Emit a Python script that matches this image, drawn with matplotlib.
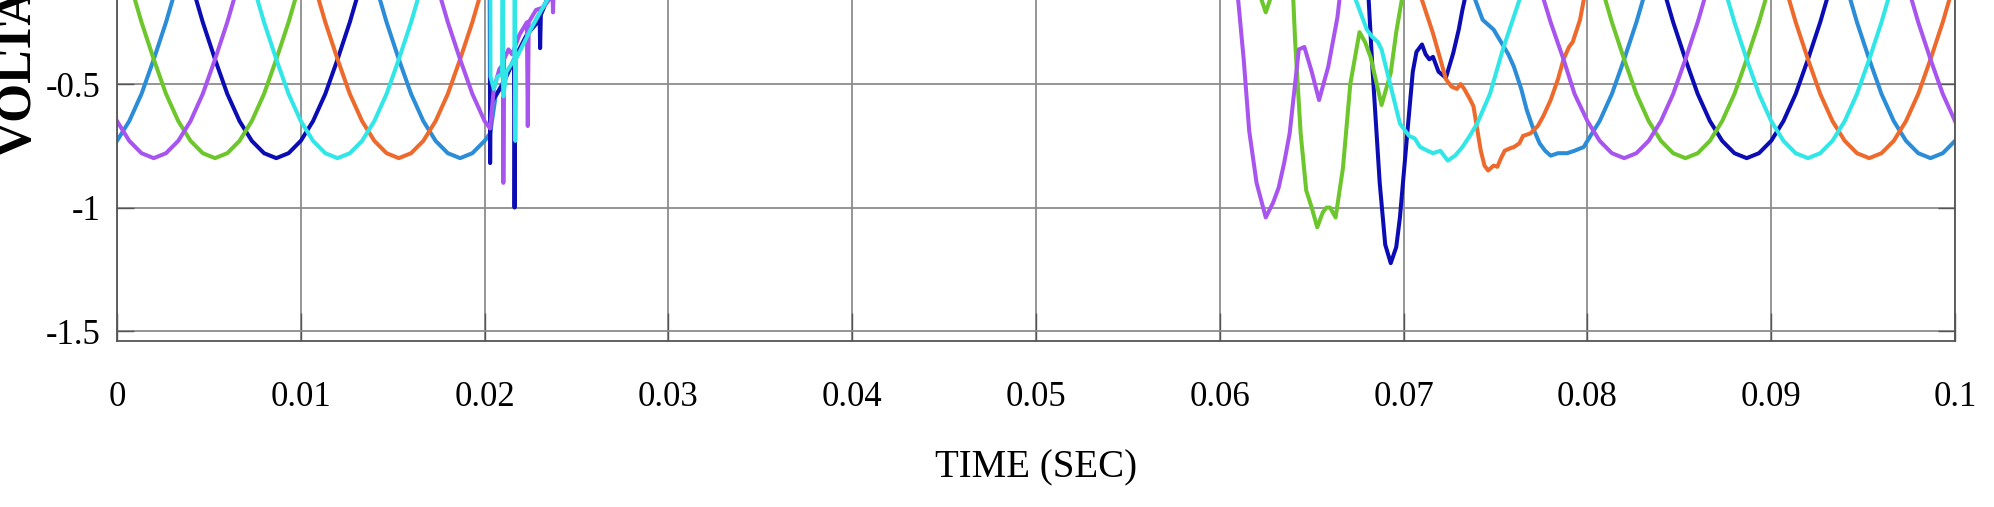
import numpy as np
import matplotlib
matplotlib.use('Agg')
import matplotlib.pyplot as plt

# sample step of the steady-state waveforms (1/30 of a 50 Hz cycle)
STEP = 0.02 / 30

# steady-state samples, one cycle (31 points) -- seen before the fault (0-0.02 s)
# and again after recovery (0.08-0.1 s)
steady_purple = [-0.65, -0.73, -0.78, -0.80, -0.78, -0.73, -0.65, -0.54, -0.40, -0.25, -0.08,
                 0.08, 0.25, 0.40, 0.54, 0.65, 0.73, 0.78, 0.80, 0.78, 0.73, 0.65, 0.54, 0.40,
                 0.25, 0.08, -0.08, -0.25, -0.40, -0.54, -0.65]
steady_green = [0.08, -0.08, -0.25, -0.40, -0.54, -0.65, -0.73, -0.78, -0.80, -0.78, -0.73,
                -0.65, -0.54, -0.40, -0.25, -0.08, 0.08, 0.25, 0.40, 0.54, 0.65, 0.73, 0.78,
                0.80, 0.78, 0.73, 0.65, 0.54, 0.40, 0.25, 0.08]
steady_blue = [0.73, 0.65, 0.54, 0.40, 0.25, 0.08, -0.08, -0.25, -0.40, -0.54, -0.65, -0.73,
               -0.78, -0.80, -0.78, -0.73, -0.65, -0.54, -0.40, -0.25, -0.08, 0.08, 0.25, 0.40,
               0.54, 0.65, 0.73, 0.78, 0.80, 0.78, 0.73]
steady_cyan = [0.65, 0.73, 0.78, 0.80, 0.78, 0.73, 0.65, 0.54, 0.40, 0.25, 0.08, -0.08, -0.25,
               -0.40, -0.54, -0.65, -0.73, -0.78, -0.80, -0.78, -0.73, -0.65, -0.54, -0.40,
               -0.25, -0.08, 0.08, 0.25, 0.40, 0.54, 0.65]
steady_orange = [-0.08, 0.08, 0.25, 0.40, 0.54, 0.65, 0.73, 0.78, 0.80, 0.78, 0.73, 0.65, 0.54,
                 0.40, 0.25, 0.08, -0.08, -0.25, -0.40, -0.54, -0.65, -0.73, -0.78, -0.80,
                 -0.78, -0.73, -0.65, -0.54, -0.40, -0.25, -0.08]
steady_ltblue = [-0.73, -0.65, -0.54, -0.40, -0.25, -0.08, 0.08, 0.25, 0.40, 0.54, 0.65, 0.73,
                 0.78, 0.80, 0.78, 0.73, 0.65, 0.54, 0.40, 0.25, 0.08, -0.08, -0.25, -0.40,
                 -0.54, -0.65, -0.73, -0.78, -0.80, -0.78, -0.73]

# fault (0.02 s) and recovery (0.06 s) transients, (time, value)
trans_purple = [(0.0203, -0.68), (0.0205, -0.52), (0.0208, -0.44), (0.0210, -0.42),
                (0.02102, -0.90), (0.02106, -0.40), (0.0213, -0.36), (0.0215, -0.38),
                (0.0219, -0.30), (0.0223, -0.25), (0.02235, -0.67), (0.0224, -0.25),
                (0.0228, -0.20), (0.0232, -0.19), (0.0237, -0.14), (0.02372, -0.21),
                (0.02376, -0.12), (0.0245, 0.0), (0.0600, 0.0), (0.0610, -0.16),
                (0.0613, -0.40), (0.0616, -0.69), (0.0620, -0.90), (0.0625, -1.04),
                (0.0629, -0.98), (0.0632, -0.92), (0.0635, -0.82), (0.0638, -0.70),
                (0.0643, -0.36), (0.0646, -0.35), (0.0650, -0.45), (0.0654, -0.565),
                (0.0659, -0.43), (0.0664, -0.23), (0.0666, -0.10), (0.0672, 0.20),
                (0.0700, 0.60), (0.0740, 0.65), (0.0760, 0.25), (0.0767, 0.08),
                (0.0773, -0.08), (0.0780, -0.25), (0.0787, -0.40), (0.0793, -0.54)]
trans_green = [(0.0245, 0.0), (0.0600, 0.0), (0.0620, -0.10), (0.0625, -0.21), (0.0630, -0.10),
               (0.0636, 0.0), (0.0640, -0.16), (0.0641, -0.33), (0.0644, -0.70),
               (0.0647, -0.93), (0.0650, -1.00), (0.0653, -1.08), (0.0656, -1.02),
               (0.0658, -1.00), (0.0660, -1.00), (0.0663, -1.04), (0.0667, -0.84),
               (0.0671, -0.50), (0.0676, -0.29), (0.0679, -0.33), (0.0682, -0.39),
               (0.0688, -0.585), (0.0693, -0.455), (0.0696, -0.29), (0.0699, -0.16),
               (0.0705, 0.10), (0.0753, 0.80), (0.0780, 0.54), (0.0787, 0.40), (0.0793, 0.25)]
trans_blue = [(0.02027, 0.30), (0.0203, -0.82), (0.02032, -0.58), (0.0210, -0.50),
              (0.0216, -0.40), (0.02163, -1.00), (0.02167, -0.39), (0.0223, -0.30),
              (0.0230, -0.24), (0.02302, -0.355), (0.02306, -0.22), (0.0234, -0.16),
              (0.0245, 0.0), (0.0600, 0.0), (0.0680, 0.0), (0.0681, -0.16), (0.0683, -0.43),
              (0.0687, -0.90), (0.0690, -1.15), (0.0693, -1.225), (0.0696, -1.16),
              (0.0698, -1.04), (0.0702, -0.70), (0.0705, -0.45), (0.0707, -0.37),
              (0.0710, -0.34), (0.0712, -0.38), (0.0714, -0.40), (0.0716, -0.39),
              (0.0719, -0.45), (0.0723, -0.475), (0.0727, -0.375), (0.0730, -0.28),
              (0.0732, -0.20), (0.0735, -0.10), (0.0740, 0.10), (0.0760, 0.54), (0.0787, 0.80)]
trans_cyan = [(0.0203, 0.60), (0.02032, -0.47), (0.0205, -0.52), (0.0207, -0.47),
              (0.02095, -0.46), (0.02098, 0.30), (0.02102, -0.55), (0.0212, -0.45),
              (0.02162, -0.40), (0.02164, 0.30), (0.02167, -0.73), (0.0217, -0.40),
              (0.0225, -0.28), (0.0234, -0.16), (0.0245, 0.0), (0.0600, 0.0), (0.0672, 0.0),
              (0.0674, -0.16), (0.0680, -0.28), (0.0683, -0.31), (0.0686, -0.33),
              (0.0688, -0.36), (0.0690, -0.42), (0.0693, -0.51), (0.0698, -0.66),
              (0.0701, -0.69), (0.0703, -0.71), (0.0706, -0.72), (0.0709, -0.755),
              (0.0713, -0.77), (0.0716, -0.78), (0.0720, -0.77), (0.0724, -0.81),
              (0.0728, -0.79), (0.0732, -0.755), (0.0736, -0.71), (0.0740, -0.66),
              (0.0747, -0.54), (0.0754, -0.36), (0.0763, -0.16), (0.0770, 0.05),
              (0.0780, 0.25), (0.0793, 0.54)]
trans_orange = [(0.0203, 0.0), (0.0600, 0.0), (0.0708, 0.0), (0.0710, -0.16), (0.0716, -0.295),
                (0.0720, -0.40), (0.0723, -0.48), (0.0726, -0.51), (0.0729, -0.52),
                (0.0731, -0.50), (0.0733, -0.52), (0.0736, -0.56), (0.0738, -0.59),
                (0.0740, -0.68), (0.0742, -0.77), (0.0744, -0.83), (0.0746, -0.85),
                (0.0749, -0.83), (0.0751, -0.835), (0.0753, -0.80), (0.0755, -0.77),
                (0.0758, -0.76), (0.0760, -0.755), (0.0763, -0.74), (0.0765, -0.71),
                (0.0769, -0.70), (0.0773, -0.67), (0.0776, -0.63), (0.0780, -0.565),
                (0.0784, -0.48), (0.0787, -0.40), (0.0790, -0.35), (0.0792, -0.33),
                (0.0796, -0.24)]
trans_ltblue = [(0.0203, -0.70), (0.0206, -0.55), (0.0215, -0.42), (0.0225, -0.28),
                (0.0234, -0.16), (0.0245, 0.0), (0.0600, 0.0), (0.0737, 0.0), (0.0739, -0.16),
                (0.0743, -0.24), (0.0746, -0.26), (0.0749, -0.28), (0.0753, -0.33),
                (0.0757, -0.38), (0.0760, -0.43), (0.0764, -0.52), (0.0767, -0.605),
                (0.0770, -0.67), (0.0774, -0.74), (0.0777, -0.77), (0.0780, -0.79),
                (0.0784, -0.78), (0.0789, -0.78), (0.0793, -0.77), (0.0798, -0.755)]

x_ticks = [0, 0.01, 0.02, 0.03, 0.04, 0.05, 0.06, 0.07, 0.08, 0.09, 0.1]
x_labels = ['0', '0.01', '0.02', '0.03', '0.04', '0.05', '0.06', '0.07', '0.08', '0.09', '0.1']
y_ticks = [-1.5, -1, -0.5]
y_labels = ['-1.5', '-1', '-0.5']

series = [
    ('ltblue', steady_ltblue, trans_ltblue, '#2b8cd8'),
    ('blue', steady_blue, trans_blue, '#0c0cb4'),
    ('orange', steady_orange, trans_orange, '#ee6a2c'),
    ('green', steady_green, trans_green, '#6cc62c'),
    ('purple', steady_purple, trans_purple, '#a855f0'),
    ('cyan', steady_cyan, trans_cyan, '#30e6e6'),
]

plt.rcParams['font.family'] = ['Liberation Serif', 'DejaVu Serif']
plt.rcParams['axes.unicode_minus'] = False

fig = plt.figure(figsize=(19.94, 5.07), dpi=100)
ax = fig.add_axes([117 / 1994, 1 - 341 / 507, (1955 - 117) / 1994, 341 / 507])

t_pre = np.arange(31) * STEP
t_post = 0.08 + np.arange(31) * STEP

for name, steady, trans, color in series:
    t = np.concatenate([t_pre, [p[0] for p in trans], t_post])
    v = np.concatenate([steady, [p[1] for p in trans], steady])
    ax.plot(t, v, color=color, linewidth=2.9, solid_joinstyle='round')

ax.set_xlim(0, 0.1)
ax.set_ylim(-1.54, -0.16)
ax.set_xticks(x_ticks)
ax.set_xticklabels(x_labels)
ax.set_yticks(y_ticks)
ax.set_yticklabels(y_labels)

ax.grid(True, color='#8c8c8c', linewidth=1.3)
ax.set_axisbelow(True)
ax.spines['top'].set_visible(False)
for s in ('left', 'right', 'bottom'):
    ax.spines[s].set_color('#555555')
    ax.spines[s].set_linewidth(1.3)

ax.tick_params(axis='x', direction='in', length=20, width=1.0, color='#555555',
               pad=29, labelsize=25, top=False)
ax.tick_params(axis='y', direction='in', length=12, width=1.0, color='#555555',
               pad=12, labelsize=25, right=True)

ax.set_xlabel('TIME (SEC)', fontsize=28)
ax.xaxis.set_label_coords(0.5, -0.372)
ax.xaxis.label.set_va('center')

ax.set_ylabel('VOLTAGE (P.U.)', fontsize=36, fontweight='bold')
ax.yaxis.set_label_coords(-0.0532, 0.54)
ax.yaxis.label.set_ha('left')
ax.yaxis.label.set_va('center')

fig.savefig('out.png', dpi=100)
